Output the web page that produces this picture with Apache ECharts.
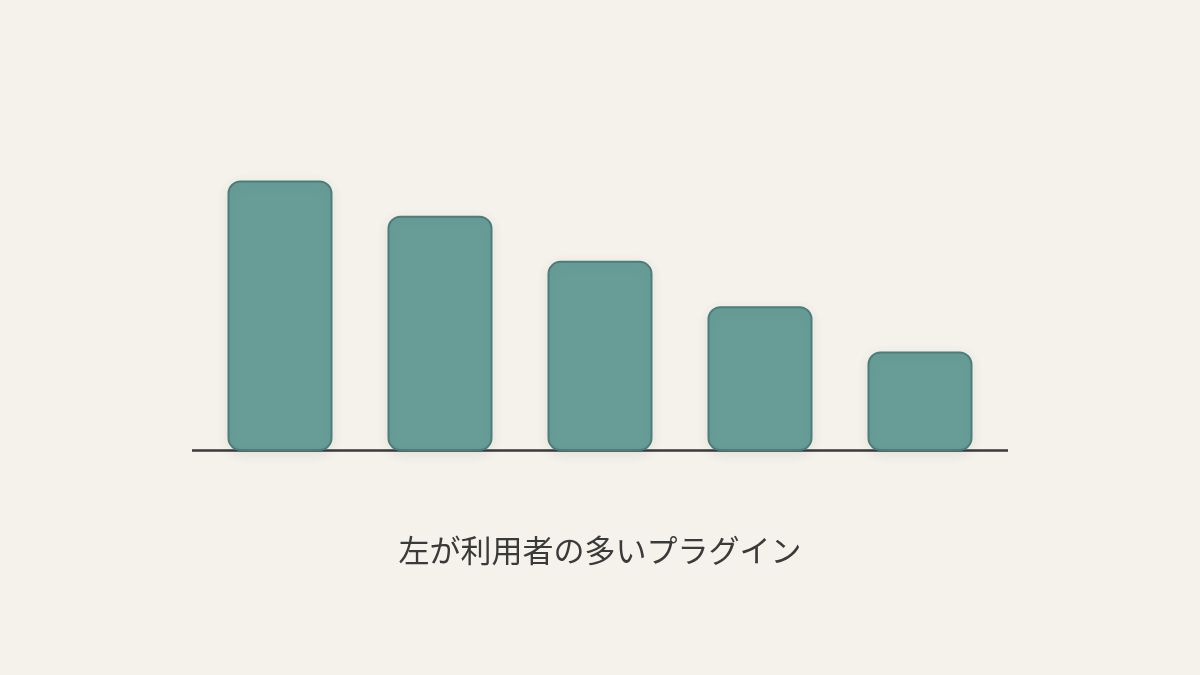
<!DOCTYPE html>
<html>
<head>
<meta charset="utf-8">
<script src="https://cdn.jsdelivr.net/npm/echarts@6/dist/echarts.min.js"></script>
<style>
html,body{margin:0;padding:0;background:#f5f2eb;}
#c{width:1200px;height:675px;}
</style>
</head>
<body>
<div id="c"></div>
<script>
const categories = ['1', '2', '3', '4', '5'];
const values = [100, 87, 70.3, 53.5, 36.8];
const caption = '左が利用者の多いプラグイン';

const chart = echarts.init(document.getElementById('c'));
chart.setOption({
  backgroundColor: '#f5f2eb',
  animation: false,
  title: {
    text: caption,
    left: 'center',
    top: 530,
    textStyle: {
      fontFamily: '"Noto Sans CJK JP", sans-serif',
      fontSize: 31,
      fontWeight: 'normal',
      color: '#3a3a3a'
    }
  },
  grid: { left: 200, right: 200, top: 180.5, bottom: 224, containLabel: false },
  xAxis: {
    type: 'category',
    data: categories,
    axisLine: { show: false },
    axisTick: { show: false },
    axisLabel: { show: false }
  },
  yAxis: {
    type: 'value',
    min: 0,
    max: 100,
    show: false,
    splitLine: { show: false }
  },
  graphic: [{
    type: 'line',
    z: 0,
    shape: { x1: 192, y1: 450.5, x2: 1008, y2: 450.5 },
    style: { stroke: '#3a3a3a', lineWidth: 2.5 }
  }],
  series: [{
    type: 'bar',
    data: values,
    barWidth: 105,
    z: 5,
    itemStyle: {
      color: '#679c97',
      borderColor: '#4b7e7a',
      borderWidth: 2,
      borderRadius: 12,
      shadowBlur: 14,
      shadowColor: 'rgba(0,0,0,0.08)',
      shadowOffsetY: 3
    }
  }]
});
</script>
</body>
</html>
